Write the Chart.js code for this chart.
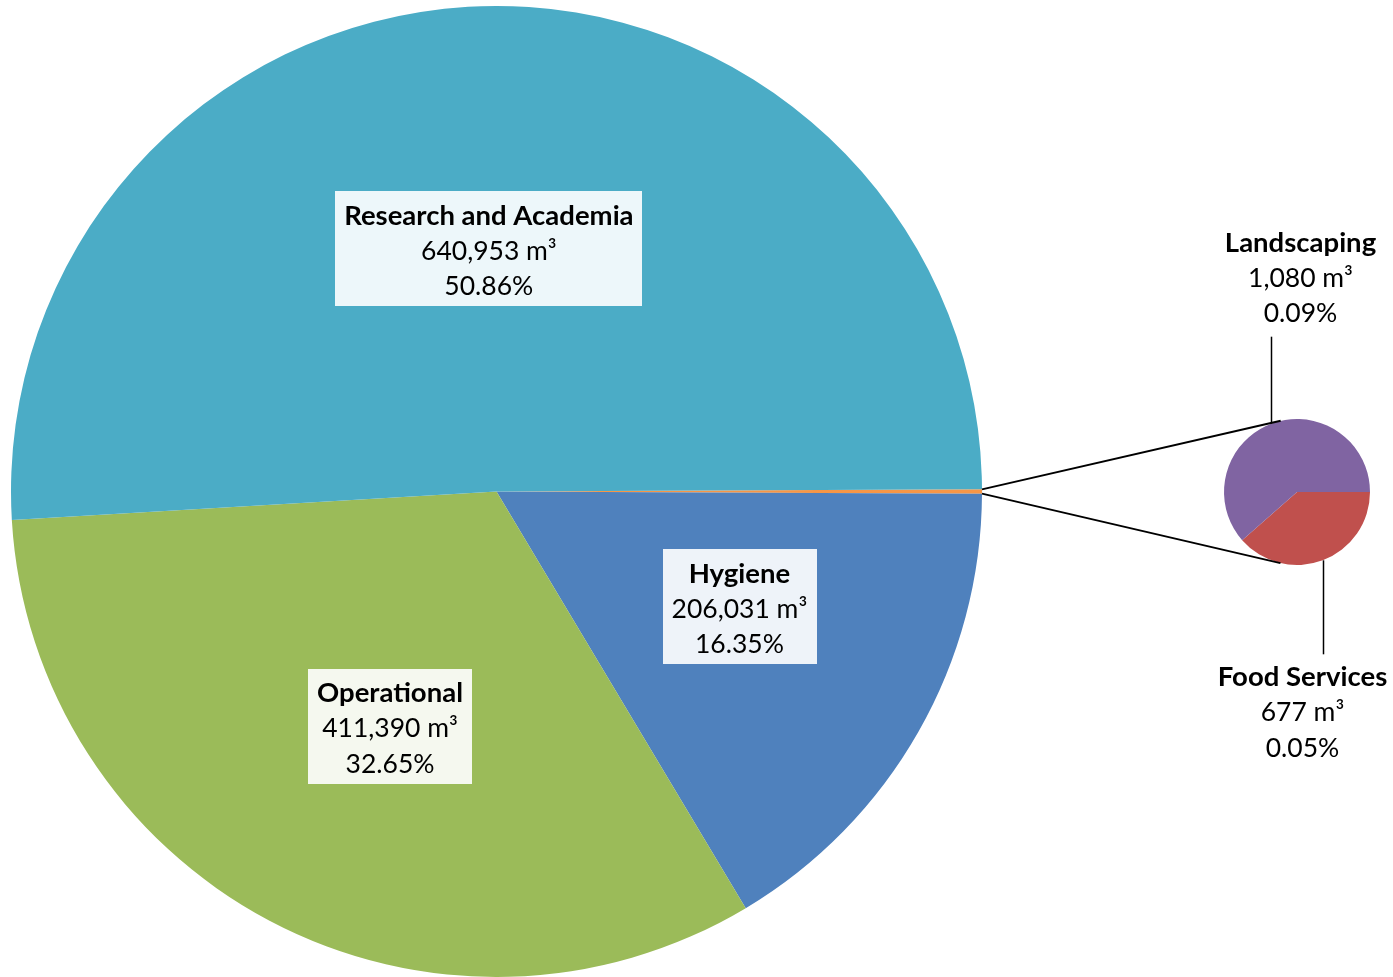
<!DOCTYPE html>
<html>
<head>
<meta charset="utf-8">
<script src="https://cdn.jsdelivr.net/npm/chart.js@4"></script>
<style>
  body { margin: 0; background: #fff; }
  #wrap { position: relative; width: 1393px; height: 977px; }
  #wrap canvas { position: absolute; left: 0; top: 0; }
</style>
</head>
<body>
<div id="wrap">
  <canvas id="mainPie" width="1393" height="977"></canvas>
  <canvas id="subPie" width="1393" height="977"></canvas>
</div>
<script>
// Consumo de água por setor (m³)
const subLabels = ['Food Services', 'Landscaping'];
const subValues = [677, 1080];
const subColors = ['#C0504D', '#8064A2'];

// a primeira fatia do gráfico principal é o total do gráfico secundário
const mainLabels = ['Other', 'Hygiene', 'Operational', 'Research and Academia'];
const mainValues = [subValues[0] + subValues[1], 206031, 411390, 640953];
const mainColors = ['#F79646', '#4F81BD', '#9BBB59', '#4BACC6'];

const grandTotal = mainValues.reduce((a, b) => a + b, 0);
const fmtVolume = v => v.toLocaleString('en-US') + ' m³';
const fmtShare = v => (v / grandTotal * 100).toFixed(2) + '%';

const FONT = 'Lato, "Noto Sans", sans-serif';
const LINE_H = 35.5;

// escreve as três linhas (nome em negrito, volume, percentual), com caixa opcional
function drawBlock(ctx, lines, cx, cy, withBox) {
  ctx.save();
  ctx.textAlign = 'center';
  ctx.textBaseline = 'middle';
  const fonts = ['bold 27.5px ' + FONT, '26.5px ' + FONT, '26.5px ' + FONT];
  let w = 0;
  lines.forEach((t, k) => { ctx.font = fonts[k]; w = Math.max(w, ctx.measureText(t).width); });
  if (withBox) {
    ctx.fillStyle = 'rgba(255,255,255,0.9)';
    ctx.fillRect(Math.round(cx - w / 2 - 9), Math.round(cy - 57.5), Math.round(w + 18), 115);
  }
  ctx.fillStyle = '#000';
  lines.forEach((t, k) => {
    ctx.font = fonts[k];
    ctx.fillText(t, cx, cy + 2.5 + (k - 1) * LINE_H);
  });
  ctx.restore();
}

const boxLabels = {
  id: 'boxLabels',
  afterDatasetsDraw(chart, args, opts) {
    const meta = chart.getDatasetMeta(0);
    meta.data.forEach((arc, i) => {
      if (i === 0) return; // "Other" é detalhado no gráfico da direita
      const p = arc.tooltipPosition();
      const n = opts.nudge[i];
      drawBlock(chart.ctx, [mainLabels[i], fmtVolume(mainValues[i]), fmtShare(mainValues[i])],
        p.x + n[0], p.y + n[1], true);
    });
  }
};

const otherDeg = mainValues[0] / grandTotal * 360;

const mainChart = new Chart(document.getElementById('mainPie'), {
  type: 'pie',
  data: {
    labels: mainLabels,
    datasets: [{
      data: mainValues,
      backgroundColor: mainColors,
      borderWidth: 0,
      hoverBorderWidth: 0
    }]
  },
  options: {
    responsive: false,
    animation: false,
    events: [],
    rotation: 90 - otherDeg / 2,
    layout: { padding: { left: 11, top: 6, right: 411, bottom: 0 } },
    plugins: {
      legend: { display: false },
      tooltip: { enabled: false },
      boxLabels: { nudge: [null, [32, -5], [7, 20], [0, 0]] }
    }
  },
  plugins: [boxLabels]
});

// linhas de ligação + rótulos externos do gráfico secundário
const subDecor = {
  id: 'subDecor',
  afterDatasetsDraw(chart, args, opts) {
    const ctx = chart.ctx;
    const small = chart.getDatasetMeta(0).data;
    const cxS = small[0].x, cyS = small[0].y, rS = small[0].outerRadius;

    // extremidades da fatia "Other" no gráfico principal
    const other = mainChart.getDatasetMeta(0).data[0];
    const ends = [other.startAngle, other.endAngle].map(a => ({
      x: other.x + Math.cos(a) * other.outerRadius,
      y: other.y + Math.sin(a) * other.outerRadius
    }));

    ctx.save();
    ctx.strokeStyle = '#000';
    ctx.lineWidth = 2;
    ends.forEach((e, k) => {
      // ponto de tangência no círculo menor
      const dx = e.x - cxS, dy = e.y - cyS;
      const d = Math.hypot(dx, dy);
      const base = Math.atan2(dy, dx);
      const off = Math.acos(rS / d);
      const a = k === 0 ? base + off : base - off;
      ctx.beginPath();
      ctx.moveTo(e.x, e.y);
      ctx.lineTo(cxS + Math.cos(a) * rS, cyS + Math.sin(a) * rS);
      ctx.stroke();
    });

    ctx.lineWidth = 1.5;
    small.forEach((arc, i) => {
      const mid = (arc.startAngle + arc.endAngle) / 2;
      const x = Math.round(arc.x + Math.cos(mid) * rS) + 0.5;
      const y = arc.y + Math.sin(mid) * rS;
      const dir = Math.sin(mid) < 0 ? -1 : 1;
      const len = opts.leader[i];
      const yEnd = y + dir * len;
      ctx.beginPath();
      ctx.moveTo(x, y);
      ctx.lineTo(x, yEnd);
      ctx.stroke();
      const lx = x + opts.shift[i];
      const ly = yEnd + dir * (23 + LINE_H) - 2.5;
      drawBlock(ctx, [subLabels[i], fmtVolume(subValues[i]), fmtShare(subValues[i])], lx, ly, false);
    });
    ctx.restore();
  }
};

new Chart(document.getElementById('subPie'), {
  type: 'pie',
  data: {
    labels: subLabels,
    datasets: [{
      data: subValues,
      backgroundColor: subColors,
      borderWidth: 0,
      hoverBorderWidth: 0
    }]
  },
  options: {
    responsive: false,
    animation: false,
    events: [],
    rotation: 90,
    layout: { padding: { left: 1224, top: 419, right: 23, bottom: 412 } },
    plugins: {
      legend: { display: false },
      tooltip: { enabled: false },
      subDecor: { leader: [94, 87], shift: [-21, 29] }
    }
  },
  plugins: [subDecor]
});
</script>
</body>
</html>
